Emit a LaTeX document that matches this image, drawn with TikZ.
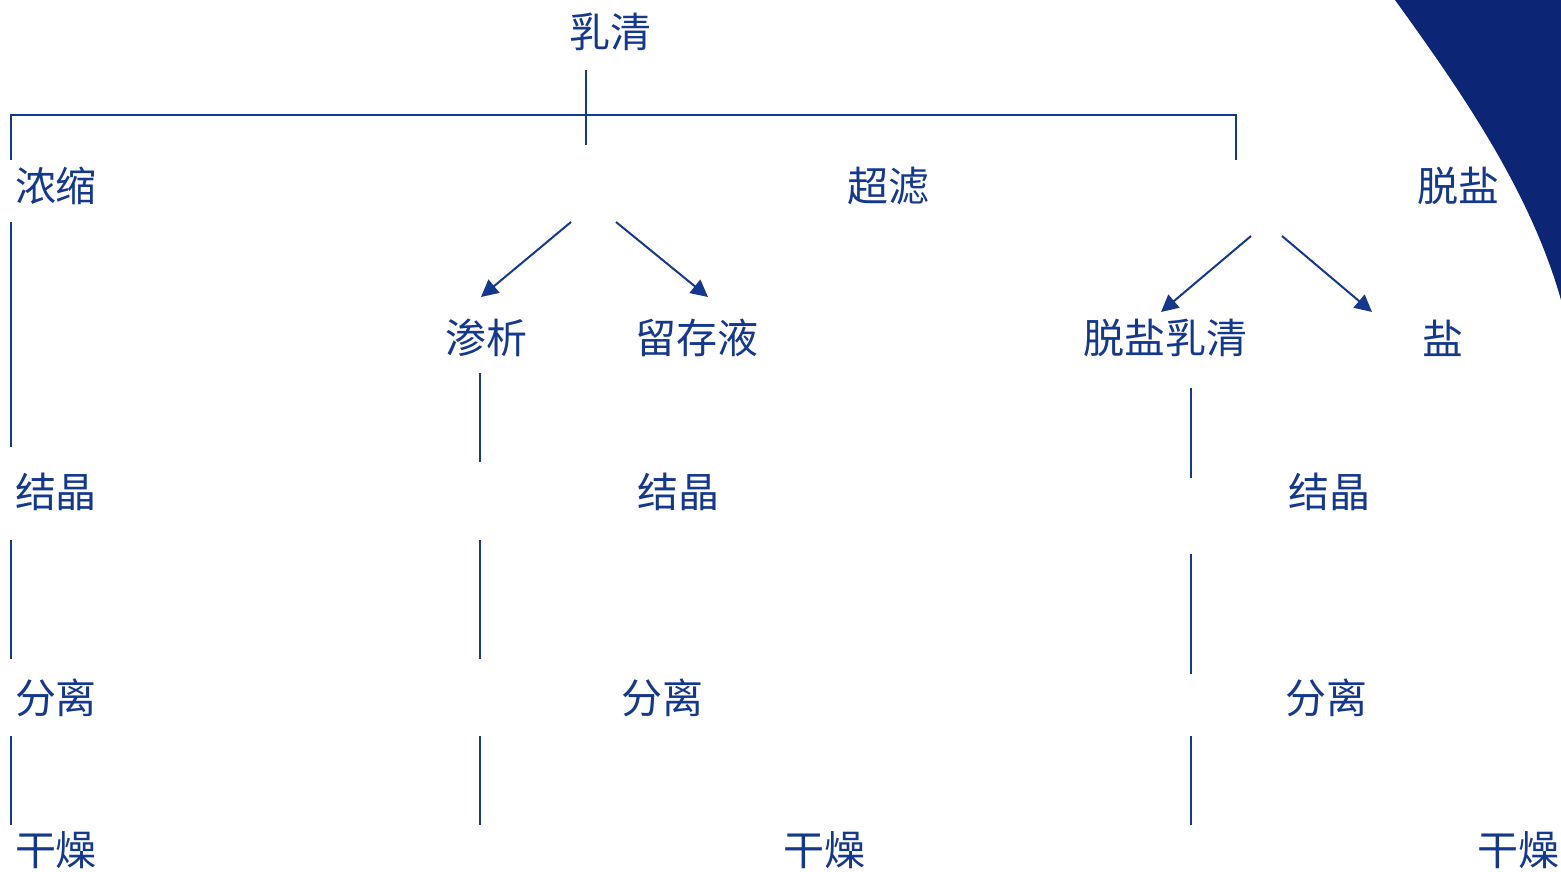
\documentclass[tikz,border=0pt]{standalone}
\usepackage{fontspec}
\setmainfont{Noto Sans CJK SC}
\usetikzlibrary{arrows.meta}
\definecolor{ink}{RGB}{20,56,140}
\definecolor{corner}{RGB}{13,37,117}
\tikzset{
  lbl/.style={inner sep=0pt, text=ink, font=\fontsize{41}{48}\selectfont},
  seg/.style={draw=ink, line width=2pt},
  arr/.style={draw=ink, line width=2pt, -{Triangle[length=17pt,width=17pt]}}
}
\begin{document}
\begin{tikzpicture}[x=1pt,y=-1pt]
\useasboundingbox (0,0) rectangle (1561,871);
% corner decoration
\fill[corner] (1395,0) .. controls (1460,90) and (1530,190) .. (1561,300) -- (1561,0) -- cycle;

% labels
\node[lbl] (whey) at (610,32) {乳清};
\node[lbl] (conc) at (56,186) {浓缩};
\node[lbl] (uf) at (888,186) {超滤};
\node[lbl] (desalt) at (1458,186) {脱盐};
\node[lbl] (perm) at (486,338) {渗析};
\node[lbl] (ret) at (697,338) {留存液};
\node[lbl] (dwhey) at (1165,338) {脱盐乳清};
\node[lbl] (salt) at (1443,338) {盐};
\node[lbl] (cryA) at (56,492) {结晶};
\node[lbl] (cryB) at (678,492) {结晶};
\node[lbl] (cryC) at (1329,492) {结晶};
\node[lbl] (sepA) at (56,698) {分离};
\node[lbl] (sepB) at (662,698) {分离};
\node[lbl] (sepC) at (1326,698) {分离};
\node[lbl] (dryA) at (56,850) {干燥};
\node[lbl] (dryB) at (824,850) {干燥};
\node[lbl] (dryC) at (1518,850) {干燥};

% tree bracket coordinates
\coordinate (wt) at (586,70);
\coordinate (wb) at (586,145);
\coordinate (bl) at (11,115);
\coordinate (br) at (1236,115);
\coordinate (blb) at (11,160);
\coordinate (brb) at (1236,160);
\draw[seg] (wt) -- (wb);
\draw[seg] (blb) -- (bl) -- (br) -- (brb);

% arrows
\coordinate (a1) at (571,222);
\coordinate (a2) at (616,222);
\coordinate (t1) at (481,297);
\coordinate (t2) at (708,297);
\draw[arr] (a1) -- (t1);
\draw[arr] (a2) -- (t2);
\coordinate (a3) at (1251,236);
\coordinate (a4) at (1282,236);
\coordinate (t3) at (1161,312);
\coordinate (t4) at (1372,312);
\draw[arr] (a3) -- (t3);
\draw[arr] (a4) -- (t4);

% left column
\coordinate (L1a) at (11,222); \coordinate (L1b) at (11,447);
\coordinate (L2a) at (11,540); \coordinate (L2b) at (11,659);
\coordinate (L3a) at (11,736); \coordinate (L3b) at (11,825);
\draw[seg] (L1a) -- (L1b);
\draw[seg] (L2a) -- (L2b);
\draw[seg] (L3a) -- (L3b);
% middle column
\coordinate (M1a) at (480,373); \coordinate (M1b) at (480,462);
\coordinate (M2a) at (480,540); \coordinate (M2b) at (480,659);
\coordinate (M3a) at (480,736); \coordinate (M3b) at (480,825);
\draw[seg] (M1a) -- (M1b);
\draw[seg] (M2a) -- (M2b);
\draw[seg] (M3a) -- (M3b);
% right column
\coordinate (R1a) at (1191,388); \coordinate (R1b) at (1191,478);
\coordinate (R2a) at (1191,554); \coordinate (R2b) at (1191,674);
\coordinate (R3a) at (1191,736); \coordinate (R3b) at (1191,825);
\draw[seg] (R1a) -- (R1b);
\draw[seg] (R2a) -- (R2b);
\draw[seg] (R3a) -- (R3b);
\end{tikzpicture}
\end{document}
